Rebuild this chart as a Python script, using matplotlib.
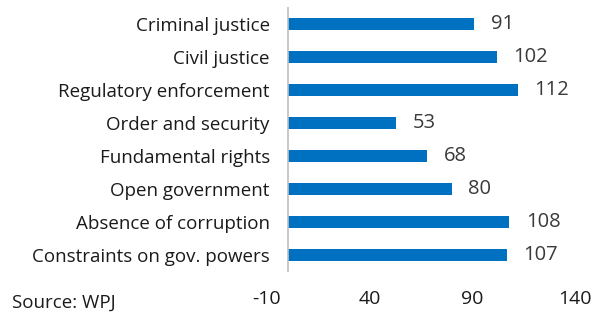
import matplotlib.pyplot as plt

# datos
categories = ['Criminal justice', 'Civil justice', 'Regulatory enforcement',
              'Order and security', 'Fundamental rights', 'Open government',
              'Absence of corruption', 'Constraints on gov. powers']
values = [91, 102, 112, 53, 68, 80, 108, 107]
xticks = [-10, 40, 90, 140]

plt.rcParams['font.family'] = ['Open Sans', 'DejaVu Sans']

fig = plt.figure(figsize=(5.98, 3.14), dpi=100)
ax = fig.add_axes([267 / 598, 1 - 272 / 314, (575 - 267) / 598, (272 - 7) / 314])

pos = list(range(len(categories)))
ax.barh(pos, values, height=0.36, color='#0070C0')
ax.set_ylim(len(categories) - 0.5, -0.5)
ax.set_xlim(-10, 140)
ax.axvline(0, color='#BFBFBF', linewidth=1.2)

for p, v in zip(pos, values):
    ax.text(v + 8, p, str(v), va='center', ha='left', fontsize=14.5, color='#3a3a3a')

ax.set_yticks(pos)
ax.set_yticklabels(categories, fontsize=13.5, color='#1a1a1a')
ax.set_xticks(xticks)
ax.set_xticklabels([str(t) for t in xticks], fontsize=14, color='#1a1a1a')
ax.tick_params(axis='y', length=0, pad=-2)
ax.tick_params(axis='x', length=0, pad=13)
for s in ax.spines.values():
    s.set_visible(False)

fig.text(12 / 598, 1 - 303 / 314, 'Source: WPJ', fontsize=13.5, color='#1a1a1a', va='center')

fig.savefig('out.png', dpi=100)
